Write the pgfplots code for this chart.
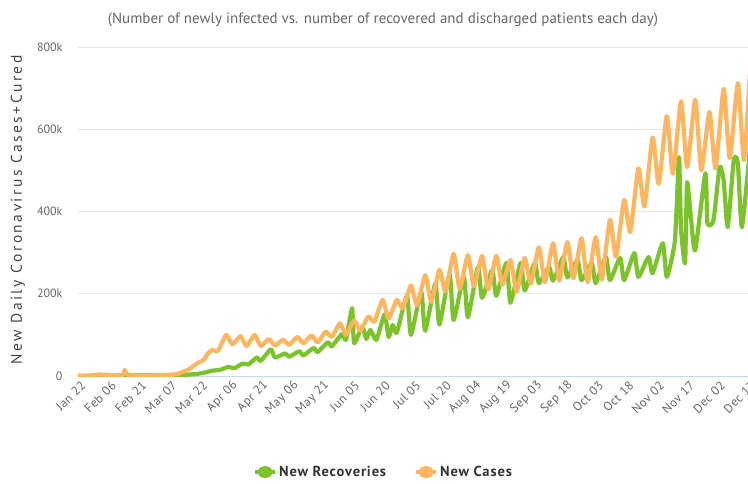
\documentclass[border=0pt]{standalone}
\usepackage{pgfplots}
\usepackage{pgfplotstable}
\pgfplotsset{compat=1.18}
\usepackage{fontspec}
\setmainfont{PT Sans}
\newfontfamily\ylabfont{PT Sans}[LetterSpace=16]
\newfontfamily\legfont{PT Sans}[LetterSpace=6]
\newfontfamily\tickfont{PT Sans}[LetterSpace=4]
\definecolor{recgreen}{HTML}{7AC42A}
\definecolor{caseorange}{HTML}{FFB55E}
\definecolor{gridgray}{HTML}{E6E6E6}
\definecolor{axisblue}{HTML}{CCD6EB}
\definecolor{labgray}{HTML}{666666}
\definecolor{leggray}{HTML}{333333}

\pgfplotstableread{
day val
0 0.6
5 1.5
10 3.5
14 3
18 2
22 2.5
23 15
24 4
28 1.5
35 1.5
42 2
46 3
49 5
52 11
55 17
57 25
59 32
62 40
64 55
66 63
69 62
73 100
76 77
80 97
83 73
87 100
90 73
94 90
97 74
101 88
104 76
108 95
111 80
115 99
118 82
122 108
125 95
129 128
132 100
136 135
139 110
143 145
146 132
150 185
153 140
157 185
160 165
164 220
167 172
171 245
174 180
178 258
181 205
185 297
188 212
192 294
195 218
199 292
202 210
206 292
209 222
213 282
216 205
220 287
223 225
227 313
230 228
234 323
237 232
241 326
244 238
248 335
251 228
255 338
258 235
262 380
265 290
269 428
272 350
276 505
279 412
283 580
286 468
290 632
293 492
297 668
300 508
304 672
307 500
311 642
314 505
318 698
321 530
325 712
328 525
331 740
}\cases

\pgfplotstableread{
day val
0 0.1
7 0.2
14 0.8
21 1.8
28 2.5
35 2.2
42 2.4
49 2.3
53 3
56 4
60 6
63 9
66 13
70 15
74 22
77 19
81 30
84 28
88 45
90 37
95 65
97 45
102 55
104 47
109 60
111 50
116 68
118 58
123 82
125 72
130 102
132 88
135 165
136 80
140 120
142 90
144 112
147 88
151 150
153 95
155 124
157 105
162 195
164 100
169 205
171 110
176 225
178 125
183 248
185 136
190 242
192 143
197 265
199 190
204 258
206 195
211 275
213 178
218 275
220 208
225 275
227 226
232 265
234 232
239 289
241 240
246 282
248 233
253 275
255 226
260 289
262 233
267 287
269 233
274 299
276 241
281 289
283 250
288 323
290 241
294 330
296 532
297 360
299 275
300 471
302 379
304 306
309 493
310 372
313 379
316 508
318 476
320 362
323 525
325 518
327 362
331 556
}\recov

\begin{document}
\begin{tikzpicture}[x=1pt,y=1pt]
\useasboundingbox (0,0) rectangle (748,483);
\node[text=labgray, font=\fontsize{15}{17}\selectfont] at (383,463) {(Number of newly infected vs. number of recovered and discharged patients each day)};
\node[rotate=90, text=black!72, font=\ylabfont\fontsize{15.5}{17}\selectfont] at (18,273) {New Daily Coronavirus Cases+Cured};
\begin{axis}[
  at={(78pt,107pt)}, anchor=south west,
  scale only axis, width=670pt, height=329pt,
  xmin=0, xmax=330, ymin=0, ymax=800,
  axis line style={draw=none},
  clip=true,
  ytick={0,200,400,600,800},
  yticklabels={0,200k,400k,600k,800k},
  xtick={0,15,...,330},
  xticklabels={Jan 22,Feb 06,Feb 21,Mar 07,Mar 22,Apr 06,Apr 21,May 06,May 21,Jun 05,Jun 20,Jul 05,Jul 20,Aug 04,Aug 19,Sep 03,Sep 18,Oct 03,Oct 18,Nov 02,Nov 17,Dec 02,Dec 17},
  major tick length=0pt,
  ymajorgrids, grid style={gridgray, line width=1pt},
  yticklabel style={text=labgray, font=\fontsize{12}{14}\selectfont, xshift=-12pt},
  xticklabel style={text=labgray, font=\tickfont\fontsize{12.5}{14}\selectfont, rotate=45, anchor=east, yshift=-9pt, xshift=2pt},
  legend style={at={(0.456,-0.292)}, anchor=center, draw=none, fill=none, legend columns=2,
    font=\legfont\bfseries\fontsize{14.5}{16}\selectfont, text=leggray,
    /tikz/every even column/.append style={column sep=26pt}},
  legend image code/.code={\draw[line width=4pt] (0pt,0pt) -- (20pt,0pt); \fill (10pt,0pt) ellipse (5.5pt and 4pt);},
]
\draw[axisblue, line width=1pt] (axis cs:0,0) -- (axis cs:330,0);
\addplot[recgreen, line width=4.2pt, line join=round, smooth, tension=0.35] table[x=day,y=val] {\recov};
\addlegendentry{New Recoveries}
\addplot[caseorange, line width=4.2pt, line join=round, smooth, tension=0.35] table[x=day,y=val] {\cases};
\addlegendentry{New Cases}
\end{axis}
\end{tikzpicture}
\end{document}
